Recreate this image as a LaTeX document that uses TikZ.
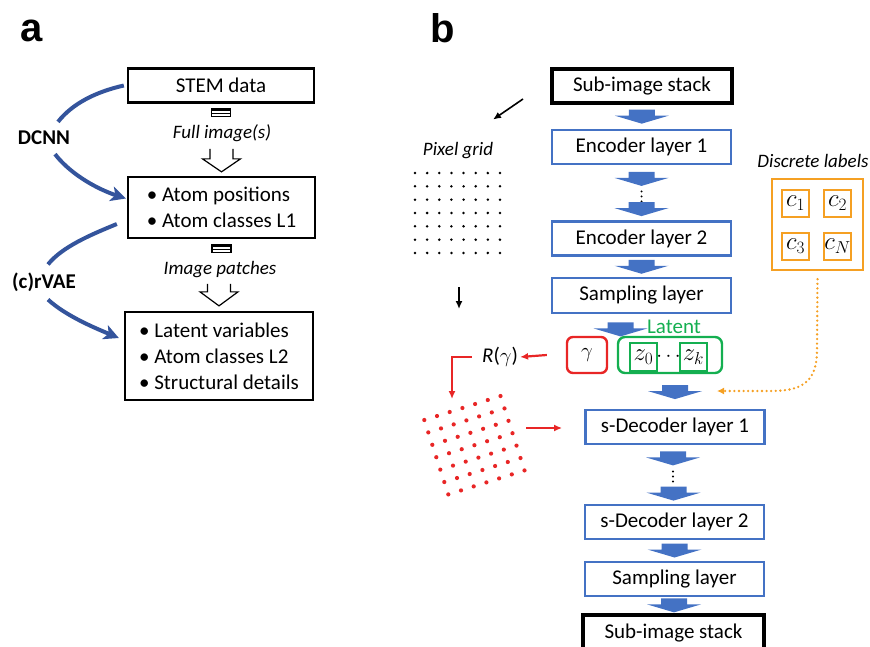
\documentclass[tikz,border=0pt]{standalone}
\usepackage{fontspec}
\setmainfont{Carlito}
\newfontfamily\lblfont{Liberation Sans}
\usetikzlibrary{arrows.meta,calc}
\definecolor{boxblue}{RGB}{68,114,196}
\definecolor{curveblue}{RGB}{52,84,156}
\definecolor{myred}{RGB}{232,38,38}
\definecolor{mygreen}{RGB}{20,175,80}
\definecolor{myorange}{RGB}{245,160,35}
\begin{document}
\begin{tikzpicture}[x=1pt,y=-1pt,
  fs/.style={font=\fontsize{21}{26}\selectfont},
  mfs/.style={font=\fontsize{25}{28}\selectfont},
  itl/.style={font=\fontsize{19}{22}\selectfont\itshape, inner sep=1pt},
  boldlbl/.style={font=\fontsize{21}{26}\selectfont\bfseries, inner sep=0pt},
  panel/.style={font=\fontsize{40}{44}\selectfont\lblfont\bfseries, inner sep=0pt},
  abox/.style={draw, line width=2.3pt, inner sep=0pt, fs, align=left},
  sbox/.style={draw, line width=3.4pt, inner sep=0pt, minimum width=180pt, minimum height=34pt, fs},
  ebox/.style={draw=boxblue, line width=2.8pt, inner sep=0pt, minimum width=179pt, minimum height=34pt, fs},
  cbox/.style={draw=myorange, line width=2.4pt, minimum size=27pt, inner sep=0pt, mfs},
  zbox/.style={draw=mygreen, line width=2.4pt, minimum width=27pt, minimum height=28pt, inner sep=0pt, mfs},
  bcurve/.style={draw=curveblue, line width=4pt},
  bcurvearrow/.style={bcurve, -{Stealth[length=15pt,width=15pt,inset=4pt]}},
  redline/.style={draw=myred, line width=2.2pt},
  redarrow/.style={redline, -{Latex[length=8pt,width=7pt]}},
  blkarrow/.style={draw=black, line width=1.6pt, -{Latex[length=8pt,width=7pt]}},
  hollow/.style={draw=black, line width=1.2pt},
  barrow/.pic={\fill[boxblue] (-13,-7) -- (13,-7) -- (13,-1) -- (27,-1) -- (0,7) -- (-27,-1) -- (-13,-1) -- cycle;},
  vdots/.pic={\foreach \d in {-5,0,5} \fill (0,\d) circle (1.1pt);}
]
\useasboundingbox (0,0) rectangle (870,646);

% ---------------- panel a ----------------
\node[panel] (pa) at (32,31) {a};
\node[abox, minimum width=186pt, minimum height=34pt] (stem) at (221,85.5) {STEM data};
\node[abox, minimum width=187pt, minimum height=61pt] (pos) at (221.5,207.5) {• Atom positions\\• Atom classes L1};
\node[abox, minimum width=188pt, minimum height=88pt] (lat) at (219,356) {• Latent variables\\• Atom classes L2\\• Structural details};
\node[itl] (fullimg) at (222,133) {Full image(s)};
\node[itl] (patches) at (220,270) {Image patches};
\node[boldlbl] (dcnn) at (44,138) {DCNN};
\node[boldlbl] (crvae) at (44,282) {(c)rVAE};

% hollow connectors
\begin{scope}[shift={(stem.south)}]
  \draw[hollow] (-9.5,4.5) rectangle (9.5,13);
  \fill (-9.5,4.5) rectangle (9.5,7);
  \draw[hollow] (-9.5,9.5) -- (9.5,9.5);
\end{scope}
\begin{scope}[shift={(pos.north)}]
  \draw[hollow] (-11.5,-27) -- (-11.5,-17) -- (-19,-17) -- (0,-4) -- (19,-17) -- (11.5,-17) -- (11.5,-27);
\end{scope}
\begin{scope}[shift={(pos.south)}]
  \draw[hollow] (-9.5,5) rectangle (9.5,13);
  \fill (-9.5,5) rectangle (9.5,7.5);
  \draw[hollow] (-9.5,10) -- (9.5,10);
\end{scope}
\begin{scope}[shift={(lat.north)}]
  \draw[hollow] (-11.5,-27) -- (-11.5,-19) -- (-19,-19) -- (0,-5) -- (19,-19) -- (11.5,-19) -- (11.5,-27);
\end{scope}

% blue curved connectors
\draw[bcurve] ($(stem.west)+(-3,0)$) .. controls (95,92) and (72,104) .. ($(dcnn.north)+(14,-9)$);
\draw[bcurvearrow] ($(dcnn.south)+(11,9)$) .. controls (72,176) and (100,190) .. ($(pos.west)+(-1,-9)$);
\draw[bcurve] ($(pos.west)+(-10,16.5)$) .. controls (90,235) and (62,247) .. ($(crvae.north)+(4,-8)$);
\draw[bcurvearrow] ($(crvae.south)+(4,8)$) .. controls (66,316) and (95,328) .. ($(lat.west)+(-5,-18)$);

% ---------------- panel b ----------------
\node[panel] (pb) at (443,28) {b};
\node[sbox] (sub1) at (642,86) {Sub-image stack};
\node[ebox] (enc1) at (641.5,147) {Encoder layer 1};
\node[ebox] (enc2) at (641.5,238.5) {Encoder layer 2};
\node[ebox, minimum height=35pt] (samp1) at (641.5,295.5) {Sampling layer};
\node[draw=myred, line width=2.4pt, rounded corners=6pt, minimum width=40pt, minimum height=36pt, inner sep=0pt, fs] (gam) at (587,355) {\(\gamma\)};
\node[draw=mygreen, line width=2.4pt, rounded corners=7pt, minimum width=104pt, minimum height=36pt, inner sep=0pt] (latent) at (670,355) {};
\node[zbox] (z0) at (643.5,357) {\(z_0\)};
\node[zbox] (zk) at (693.5,357) {\(z_k\)};
\node[fs, inner sep=0pt] (zdots) at ($(z0)!0.5!(zk)$) {\(\cdots\)};
\node[fs, text=mygreen, inner sep=0pt] (latlbl) at (674,327) {Latent};
\node[ebox] (dec1) at (675,427) {s-Decoder layer 1};
\node[ebox] (dec2) at (674.5,522) {s-Decoder layer 2};
\node[ebox] (samp2) at (674.5,579) {Sampling layer};
\node[sbox, minimum width=181pt, minimum height=37pt] (sub2) at (673.5,633.5) {Sub-image stack};

% block arrows
\pic at ($(sub1.south)!0.5!(enc1.north)$) {barrow};
\pic at ($(enc1.south)+(0,13.5)$) {barrow};
\pic at ($(enc1.south)+(0,31)$) {vdots};
\pic at ($(enc2.north)+(0,-11)$) {barrow};
\pic at ($(enc2.south)!0.5!(samp1.north)$) {barrow};
\pic at ($(samp1.south)+(-21,15)$) {barrow};
\pic at ($(dec1.north)+(0,-16.5)$) {barrow};
\pic at ($(dec1.south)+(-2,13)$) {barrow};
\pic at ($(dec1.south)+(-2,31)$) {vdots};
\pic at ($(dec2.north)+(-1,-10)$) {barrow};
\pic at ($(dec2.south)!0.5!(samp2.north)$) {barrow};
\pic at ($(samp2.south)!0.5!(sub2.north)$) {barrow};

% discrete labels
\node[itl] (disclbl) at (813,161) {Discrete labels};
\node[draw=myorange, line width=2.4pt, minimum size=91pt, inner sep=0pt] (dbox) at (817.5,224.5) {};
\node[cbox] (c1) at (795.5,203.5) {\(c_1\)};
\node[cbox] (c2) at (837.5,203.5) {\(c_2\)};
\node[cbox] (c3) at (795.5,246.5) {\(c_3\)};
\node[cbox] (cN) at (837.5,246.5) {\(c_N\)};
\coordinate (orend) at (717,391);
\draw[draw=myorange, line width=2.6pt, line cap=round, dash pattern=on 0pt off 4.6pt, -{Latex[length=7pt,width=7pt]}]
  ($(dbox.south)+(0,8)$) -- (817,350) .. controls (817,384) and (800,391) .. (770,391) -- (orend);

% pixel grid
\node[itl] (pixlbl) at (458,151) {Pixel grid};
\coordinate (blkstart) at (523,99);
\draw[blkarrow] (blkstart) -- ($(pixlbl.north)+(35,-22)$);
\foreach \i in {0,...,7} \foreach \j in {0,...,6}
  \fill (415+\i*12.14, 173+\j*13.33) circle (1.4pt);
\coordinate (gridend) at (459,287);
\coordinate (rottop) at (459,309);
\draw[blkarrow] (gridend) -- (rottop);

% rotation branch
\node[fs, inner sep=2pt] (rg) at (500,357) {\textit{R}(\(\gamma\))};
\draw[redarrow] ($(gam.west)+(-19,0)$) -- (rg.east);
\coordinate (redtip) at (452,399);
\draw[redarrow] ($(rg.west)+(-8,0)$) -| (redtip);
\foreach \i in {0,...,6} \foreach \j in {0,...,6}
  \fill[myred] (424.3+\i*12.7+\j*4.0, 420-\i*4.0+\j*12.4) circle (2.1pt);
\coordinate (redstart) at (526,428);
\draw[redarrow, shorten >=22pt] (redstart) -- (redstart -| dec1.west);
\end{tikzpicture}
\end{document}
